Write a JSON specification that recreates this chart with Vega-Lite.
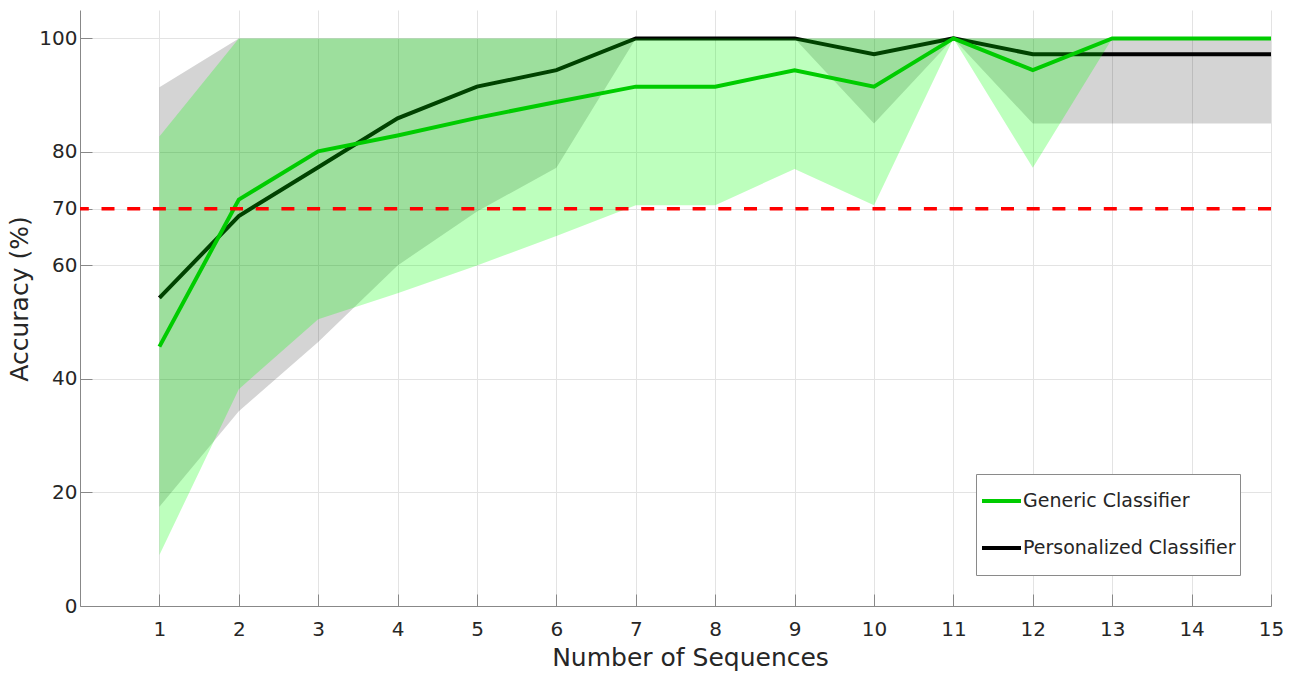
{
  "$schema": "https://vega.github.io/schema/vega-lite/v6.json",
  "width": 1191,
  "height": 596,
  "autosize": "none",
  "padding": {"left": 80, "top": 10, "right": 30, "bottom": 67},
  "background": "white",
  "config": {
    "view": {"stroke": null},
    "font": "DejaVu Sans",
    "axis": {
      "labelFont": "DejaVu Sans",
      "labelFontSize": 20,
      "labelColor": "#262626",
      "titleFont": "DejaVu Sans",
      "titleFontSize": 25,
      "titleFontWeight": "normal",
      "titleColor": "#262626",
      "domainColor": "#888888",
      "domainWidth": 1,
      "tickColor": "#888888",
      "tickSize": -12,
      "tickWidth": 1,
      "gridColor": "#e3e3e3",
      "gridWidth": 1,
      "labelFlush": false,
      "labelOverlap": false
    }
  },
  "data": {
    "values": [
      {"n": 1, "series": "Generic Classifier", "mean": 45.7, "lo": 9, "hi": 82.7},
      {"n": 2, "series": "Generic Classifier", "mean": 71.6, "lo": 38.2, "hi": 100},
      {"n": 3, "series": "Generic Classifier", "mean": 80.1, "lo": 50.5, "hi": 100},
      {"n": 4, "series": "Generic Classifier", "mean": 82.9, "lo": 55.1, "hi": 100},
      {"n": 5, "series": "Generic Classifier", "mean": 86.0, "lo": 60, "hi": 100},
      {"n": 6, "series": "Generic Classifier", "mean": 88.8, "lo": 65.2, "hi": 100},
      {"n": 7, "series": "Generic Classifier", "mean": 91.5, "lo": 70.6, "hi": 100},
      {"n": 8, "series": "Generic Classifier", "mean": 91.5, "lo": 70.6, "hi": 100},
      {"n": 9, "series": "Generic Classifier", "mean": 94.4, "lo": 77.0, "hi": 100},
      {"n": 10, "series": "Generic Classifier", "mean": 91.5, "lo": 70.6, "hi": 100},
      {"n": 11, "series": "Generic Classifier", "mean": 100, "lo": 100, "hi": 100},
      {"n": 12, "series": "Generic Classifier", "mean": 94.4, "lo": 77.2, "hi": 100},
      {"n": 13, "series": "Generic Classifier", "mean": 100, "lo": 100, "hi": 100},
      {"n": 14, "series": "Generic Classifier", "mean": 100, "lo": 100, "hi": 100},
      {"n": 15, "series": "Generic Classifier", "mean": 100, "lo": 100, "hi": 100},
      {"n": 1, "series": "Personalized Classifier", "mean": 54.3, "lo": 17.5, "hi": 91.4},
      {"n": 2, "series": "Personalized Classifier", "mean": 68.7, "lo": 34.3, "hi": 100},
      {"n": 3, "series": "Personalized Classifier", "mean": 77.3, "lo": 46.5, "hi": 100},
      {"n": 4, "series": "Personalized Classifier", "mean": 85.9, "lo": 60, "hi": 100},
      {"n": 5, "series": "Personalized Classifier", "mean": 91.5, "lo": 69.5, "hi": 100},
      {"n": 6, "series": "Personalized Classifier", "mean": 94.4, "lo": 77.2, "hi": 100},
      {"n": 7, "series": "Personalized Classifier", "mean": 100, "lo": 100, "hi": 100},
      {"n": 8, "series": "Personalized Classifier", "mean": 100, "lo": 100, "hi": 100},
      {"n": 9, "series": "Personalized Classifier", "mean": 100, "lo": 100, "hi": 100},
      {"n": 10, "series": "Personalized Classifier", "mean": 97.2, "lo": 85, "hi": 100},
      {"n": 11, "series": "Personalized Classifier", "mean": 100, "lo": 100, "hi": 100},
      {"n": 12, "series": "Personalized Classifier", "mean": 97.2, "lo": 85, "hi": 100},
      {"n": 13, "series": "Personalized Classifier", "mean": 97.2, "lo": 85, "hi": 100},
      {"n": 14, "series": "Personalized Classifier", "mean": 97.2, "lo": 85, "hi": 100},
      {"n": 15, "series": "Personalized Classifier", "mean": 97.2, "lo": 85, "hi": 100}
    ]
  },
  "layer": [
    {
      "transform": [{"filter": "datum.series === 'Personalized Classifier'"}],
      "mark": {"type": "area", "color": "#000000", "opacity": 0.17},
      "encoding": {
        "x": {
          "field": "n", "type": "quantitative",
          "scale": {"domain": [0, 15], "nice": false, "zero": false},
          "axis": {
            "values": [1, 2, 3, 4, 5, 6, 7, 8, 9, 10, 11, 12, 13, 14, 15],
            "format": "d",
            "title": "Number of Sequences",
            "labelPadding": 25,
            "titleX": 610,
            "titleY": 39
          }
        },
        "y": {
          "field": "lo", "type": "quantitative",
          "scale": {"domain": [0, 105], "nice": false},
          "axis": {
            "values": [0, 20, 40, 60, 70, 80, 100],
            "format": "d",
            "title": "Accuracy (%)",
            "labelPadding": 15,
            "titleX": -47.75,
            "titleY": 288.5
          }
        },
        "y2": {"field": "hi"}
      }
    },
    {
      "transform": [{"filter": "datum.series === 'Personalized Classifier'"}],
      "mark": {"type": "line", "strokeWidth": 4},
      "encoding": {
        "x": {"field": "n", "type": "quantitative"},
        "y": {"field": "mean", "type": "quantitative", "title": "Accuracy (%)"},
        "color": {
          "field": "series", "type": "nominal",
          "scale": {"domain": ["Generic Classifier", "Personalized Classifier"], "range": ["#00cc00", "#000000"]},
          "legend": {
            "title": null,
            "orient": "none",
            "legendX": 896,
            "legendY": 464,
            "symbolType": "stroke",
            "symbolSize": 1521,
            "symbolStrokeWidth": 4,
            "labelFont": "DejaVu Sans",
            "labelFontSize": 19,
            "labelColor": "#262626",
            "labelOffset": 0,
            "labelLimit": 0,
            "strokeColor": "#8a8a8a",
            "fillColor": "white",
            "padding": 4,
            "clipHeight": 46,
            "rowPadding": 1
          }
        }
      }
    },
    {
      "transform": [{"filter": "datum.series === 'Generic Classifier'"}],
      "mark": {"type": "area", "color": "#00ff00", "opacity": 0.26},
      "encoding": {
        "x": {"field": "n", "type": "quantitative"},
        "y": {"field": "lo", "type": "quantitative", "title": "Accuracy (%)"},
        "y2": {"field": "hi"}
      }
    },
    {
      "transform": [{"filter": "datum.series === 'Generic Classifier'"}],
      "mark": {"type": "line", "strokeWidth": 4},
      "encoding": {
        "x": {"field": "n", "type": "quantitative"},
        "y": {"field": "mean", "type": "quantitative", "title": "Accuracy (%)"},
        "color": {"field": "series", "type": "nominal"}
      }
    },
    {
      "data": {"values": [{"t": 70}]},
      "mark": {"type": "rule", "color": "#ff0000", "strokeWidth": 3.5, "strokeDash": [13, 12.7]},
      "encoding": {
        "y": {"field": "t", "type": "quantitative", "title": "Accuracy (%)"}
      }
    }
  ]
}
